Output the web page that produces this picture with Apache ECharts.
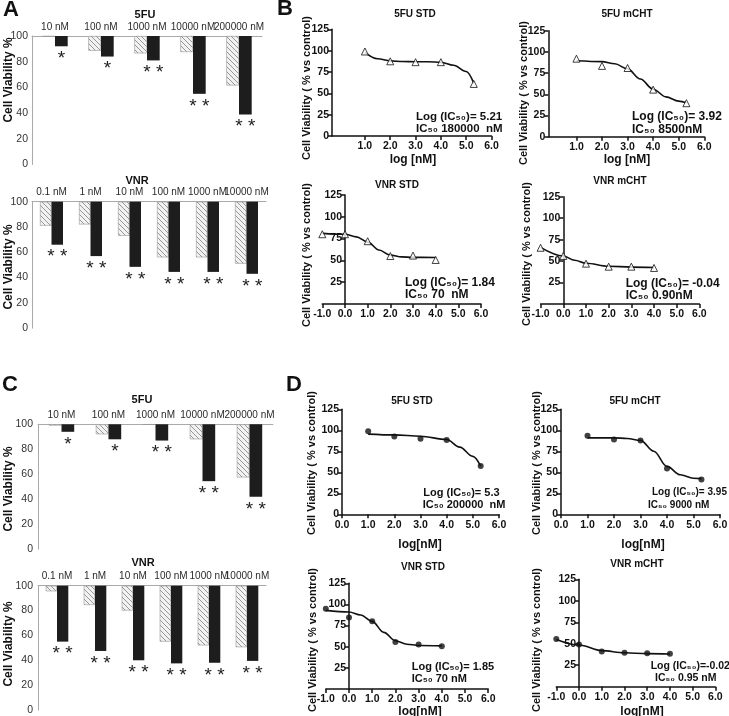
<!DOCTYPE html>
<html>
<head>
<meta charset="utf-8">
<script src="https://cdn.jsdelivr.net/npm/echarts@6/dist/echarts.min.js"></script>
<style>
html, body { margin: 0; padding: 0; background: #fff; }
#main { width: 729px; height: 716px; }
</style>
</head>
<body>
<div id="main"></div>
<script>
var sans = '"Liberation Sans", Arial, sans-serif';

// bar panels (A, C): cell viability %
var conc5FU = ['10 nM', '100 nM', '1000 nM', '10000 nM', '200000 nM'];
var concVNR = ['0.1 nM', '1 nM', '10 nM', '100 nM', '1000 nM', '10000 nM'];
var a5fuStd  = [99.5, 88.5, 86.5, 87.5, 61.5];
var a5fuMcht = [92, 84, 81, 55, 39];
var aVnrStd  = [81, 82, 73, 56, 56, 51];
var aVnrMcht = [66, 57, 48.5, 44.5, 44.5, 43];
var c5fuStd  = [99, 92, 99.7, 88, 57.5];
var c5fuMcht = [94, 88, 87, 54.5, 42];
var cVnrStd  = [95.5, 84.5, 80, 55, 52, 50.5];
var cVnrMcht = [55, 47.5, 40, 37.5, 38, 39.5];
var stars5FU = ['*', '*', '* *', '* *', '* *'];
var starsVNR = ['* *', '* *', '* *', '* *', '* *', '* *'];

// dose-response panels (B, D): [log nM, % vs control]
var b5fuStdPts  = [[1, 99], [2, 87.5], [3, 86.5], [4, 86.5], [5.3, 61]];
var b5fuStdFit  = [[1, 98], [1.5, 90.5], [2, 88], [2.5, 87.3], [3, 87], [3.5, 87], [4, 86.3], [4.5, 82.8], [5, 75.5], [5.3, 62]];
var b5fuMchtPts = [[1, 92], [2, 83.5], [3, 81], [4, 55.5], [5.3, 39.5]];
var b5fuMchtFit = [[1, 89.5], [2, 88.5], [2.5, 86], [3, 80], [3.5, 68], [4, 56], [4.5, 47], [5, 42], [5.3, 40]];
var bVnrStdPts  = [[-1, 80], [0, 80], [1, 72], [2, 55], [3, 55.5], [4, 50.5]];
var bVnrStdFit  = [[-1, 81], [0, 80], [0.5, 77], [1, 71], [1.5, 62], [2, 56], [2.5, 54], [3, 53.5], [4, 53.3]];
var bVnrMchtPts = [[-1, 65.5], [0, 56], [1, 47], [2, 43.5], [3, 43.5], [4, 42]];
var bVnrMchtFit = [[-1, 66], [0, 56], [0.5, 51], [1, 47.5], [2, 44], [3, 43], [4, 42.5]];
var d5fuStdPts  = [[1, 99], [2, 92.5], [3, 90], [4, 88.5], [5.3, 57.5]];
var d5fuStdFit  = [[1, 95.5], [2, 94.5], [3, 93], [4, 89], [4.5, 80], [5, 69], [5.3, 57.5]];
var d5fuMchtPts = [[1, 93.5], [2, 89], [3, 88], [4, 54.5], [5.3, 41.5]];
var d5fuMchtFit = [[1, 91], [2, 91], [2.5, 90.3], [3, 88], [3.5, 75], [4, 57], [4.5, 47], [5, 43], [5.3, 42.5]];
var dVnrStdPts  = [[-1, 95], [0, 84.5], [1, 80], [2, 55.5], [3, 52.5], [4, 50.5]];
var dVnrStdFit  = [[-1, 93], [0, 91], [0.5, 87.5], [1, 80], [1.5, 67], [2, 57], [2.5, 53], [3, 51.5], [4, 51]];
var dVnrMchtPts = [[-1, 55.5], [0, 49], [1, 41], [2, 39.5], [3, 38.8], [4, 38.3]];
var dVnrMchtFit = [[-1, 55], [0, 48.5], [1, 42], [2, 39.5], [3, 38.5], [4, 38]];
var topTicks = [1, 2, 3, 4, 5, 6];

var grids = [], xAxes = [], yAxes = [], series = [], graphics = [];

// hatched fill for the STD bars
function makeHatch() {
    var c = document.createElement('canvas');
    c.width = 5; c.height = 5;
    var g = c.getContext('2d');
    g.fillStyle = '#f2f2f2';
    g.fillRect(0, 0, 5, 5);
    g.strokeStyle = '#8c8c8c';
    g.lineWidth = 0.9;
    g.beginPath();
    g.moveTo(-1, -1); g.lineTo(6, 6);
    g.moveTo(-1, 4); g.lineTo(1, 6);
    g.moveTo(4, -1); g.lineTo(6, 1);
    g.stroke();
    return c;
}
var hatchFill = { image: makeHatch(), repeat: 'repeat' };

function txt(x, y, s, size, weight, extra) {
    var el = {
        type: 'text', x: x, y: y, silent: true,
        style: {
            text: s, fontSize: size, fontWeight: weight || 'normal', fontFamily: sans, fill: '#111',
            align: 'center', verticalAlign: 'middle', textAlign: 'center', textVerticalAlign: 'middle'
        }
    };
    if (extra) {
        if (extra.rotation) el.rotation = extra.rotation;
        if (extra.align) { el.style.align = extra.align; el.style.textAlign = extra.align; }
    }
    return el;
}

function fromTop(v) { return 100 - v; }

function addBars(p) {
    var i = grids.length;
    grids.push({ left: p.box[0], top: p.box[1], width: p.box[2], height: p.box[3], outerBoundsMode: 'none' });
    xAxes.push({
        gridIndex: i, type: 'category', data: p.cats, position: 'top',
        axisLine: { onZero: false, lineStyle: { color: '#aaa', width: 1 } },
        axisTick: { show: false },
        axisLabel: { interval: 0, margin: 4, fontSize: 10, color: '#2a2a2a', fontFamily: sans }
    });
    yAxes.push({
        gridIndex: i, type: 'value', min: 0, max: 100, interval: 20,
        axisLine: { show: true, lineStyle: { color: '#aaa', width: 1 } },
        axisTick: { show: false }, splitLine: { show: false },
        axisLabel: { margin: p.labGap, fontSize: 10.5, color: '#333', fontFamily: sans }
    });
    var base = { type: 'bar', xAxisIndex: i, yAxisIndex: i, barWidth: p.barW, barGap: '0%', silent: true };
    series.push(Object.assign({}, base, { stack: 'std' + i, data: p.std, itemStyle: { color: 'rgba(0,0,0,0)' } }));
    series.push(Object.assign({}, base, {
        stack: 'std' + i, data: p.std.map(fromTop),
        itemStyle: { color: hatchFill, borderColor: '#999', borderWidth: 0.6 }
    }));
    series.push(Object.assign({}, base, { stack: 'mcht' + i, data: p.mcht, itemStyle: { color: 'rgba(0,0,0,0)' } }));
    series.push(Object.assign({}, base, {
        stack: 'mcht' + i, data: p.mcht.map(fromTop),
        itemStyle: { color: '#1d1d1d' },
        label: {
            show: true, position: 'bottom', distance: 3, fontSize: 19, color: '#222', fontFamily: sans,
            formatter: function (d) { return p.stars[d.dataIndex]; }
        }
    }));
    graphics.push(txt(p.title[0], p.title[1], p.title[2], 11, 'bold'));
    graphics.push(txt(p.yname[0], p.yname[1], 'Cell Viability %', 12, 'bold', { rotation: Math.PI / 2 }));
}

function addCurve(p) {
    var i = grids.length;
    var ink = '#111';
    grids.push({ left: p.box[0], top: p.box[1], width: p.box[2], height: p.box[3], outerBoundsMode: 'none' });
    var xa = {
        gridIndex: i, type: 'value', min: p.xMin, max: 6,
        axisLine: { onZero: false, lineStyle: { color: ink, width: 1.5 } },
        axisTick: { length: 4, lineStyle: { color: ink, width: 1.5 } },
        splitLine: { show: false },
        axisLabel: {
            margin: 5, fontSize: 10.5, fontWeight: 'bold', color: ink, fontFamily: sans,
            formatter: function (v) { return v.toFixed(1); }
        }
    };
    if (p.xTicks) {
        xa.axisTick.customValues = p.xTicks;
        xa.axisLabel.customValues = p.xTicks;
    } else {
        xa.interval = 1;
    }
    xAxes.push(xa);
    // VNR panels: the y axis crosses at log = 0, shifted into the grid
    var shift = p.yAtZero ? -p.box[2] * (0 - p.xMin) / (6 - p.xMin) : 0;
    yAxes.push({
        gridIndex: i, type: 'value', min: 0, max: 125, interval: 25, offset: shift,
        axisLine: { show: true, onZero: false, lineStyle: { color: ink, width: 1.5 } },
        axisTick: { length: 4, lineStyle: { color: ink, width: 1.5 } },
        splitLine: { show: false },
        axisLabel: { margin: 3, fontSize: 10.5, fontWeight: 'bold', color: ink, fontFamily: sans, showMinLabel: !p.yAtZero }
    });
    series.push({
        type: 'line', xAxisIndex: i, yAxisIndex: i, data: p.fit, smooth: 0.35, smoothMonotone: 'x',
        symbol: 'none', showSymbol: false, silent: true, lineStyle: { color: ink, width: 1.6 }
    });
    series.push({
        type: 'scatter', xAxisIndex: i, yAxisIndex: i, data: p.pts, z: 3, silent: true,
        symbol: p.sym, symbolSize: p.sym === 'triangle' ? 7 : 6,
        itemStyle: p.sym === 'triangle' ? { color: '#fff', borderColor: ink, borderWidth: 1 } : { color: ink }
    });
    graphics.push(txt(p.title[0], p.title[1], p.title[2], 10, 'bold'));
    graphics.push(txt(p.yname[0], p.yname[1], 'Cell Viability ( % vs control)', 11, 'bold', { rotation: Math.PI / 2 }));
    if (p.xname) graphics.push(txt(p.xname[0], p.xname[1], p.xname[2], 12, 'bold'));
    graphics.push(txt(p.ic[0], p.ic[1], p.ic[2], p.icSize, 'bold', { align: 'left' }));
    graphics.push(txt(p.ic[3], p.ic[1] + 12.5, p.ic[4], p.icSize, 'bold', { align: 'left' }));
}

// panel A
addBars({ box: [32, 36, 230, 128.5], cats: conc5FU, std: a5fuStd, mcht: a5fuMcht, stars: stars5FU, barW: 12.7,
    labGap: 4, title: [145, 15, '5FU'], yname: [9, 80] });
addBars({ box: [32, 201.7, 234, 126.5], cats: concVNR, std: aVnrStd, mcht: aVnrMcht, stars: starsVNR, barW: 11.5,
    labGap: 4, title: [137, 181, 'VNR'], yname: [9, 267] });
// panel C
addBars({ box: [38, 424.3, 235, 125], cats: conc5FU, std: c5fuStd, mcht: c5fuMcht, stars: stars5FU, barW: 12.7,
    labGap: 5, title: [142, 400, '5FU'], yname: [9, 489] });
addBars({ box: [38, 585.7, 228, 124.3], cats: concVNR, std: cVnrStd, mcht: cVnrMcht, stars: starsVNR, barW: 11.3,
    labGap: 5, title: [143, 563, 'VNR'], yname: [9, 644] });

// panel B
addCurve({ box: [332, 29.3, 159.5, 106.7], xMin: -0.3, xTicks: topTicks, pts: b5fuStdPts, fit: b5fuStdFit, sym: 'triangle',
    title: [415, 14, '5FU STD'], yname: [307, 88], xname: [413, 160, 'log [nM]'], icSize: 11.5,
    ic: [416, 116.7, 'Log (IC₅₀)= 5.21', 416, 'IC₅₀ 180000  nM'] });
addCurve({ box: [548.3, 30.7, 156, 106], xMin: -0.1, xTicks: topTicks, pts: b5fuMchtPts, fit: b5fuMchtFit, sym: 'triangle',
    title: [627, 14, '5FU mCHT'], yname: [524.3, 93], xname: [627, 160, 'log [nM]'], icSize: 12,
    ic: [632, 116.7, 'Log (IC₅₀)= 3.92', 632, 'IC₅₀ 8500nM'] });
addCurve({ box: [322.3, 195, 158.7, 109], xMin: -1, yAtZero: true, pts: bVnrStdPts, fit: bVnrStdFit, sym: 'triangle',
    title: [397, 185, 'VNR STD'], yname: [306.7, 255], icSize: 12,
    ic: [405, 282.3, 'Log (IC₅₀)= 1.84', 405, 'IC₅₀ 70  nM'] });
addCurve({ box: [540.6, 196.7, 158.8, 107.3], xMin: -1, yAtZero: true, pts: bVnrMchtPts, fit: bVnrMchtFit, sym: 'triangle',
    title: [620, 181, 'VNR mCHT'], yname: [526.7, 254], icSize: 12,
    ic: [625.7, 283.3, 'Log (IC₅₀)= -0.04', 625.7, 'IC₅₀ 0.90nM'] });

// panel D
addCurve({ box: [342, 409.3, 157, 105], xMin: 0, pts: d5fuStdPts, fit: d5fuStdFit, sym: 'circle',
    title: [412, 401.7, '5FU STD'], yname: [311.7, 463], xname: [420, 545, 'log[nM]'], icSize: 11,
    ic: [423.3, 492.7, 'Log (IC₅₀)= 5.3', 422.7, 'IC₅₀ 200000  nM'] });
addCurve({ box: [561, 409.3, 159, 105], xMin: 0, pts: d5fuMchtPts, fit: d5fuMchtFit, sym: 'circle',
    title: [635, 401.7, '5FU mCHT'], yname: [536.7, 463], xname: [643, 545, 'log[nM]'], icSize: 10,
    ic: [652, 492.7, 'Log (IC₅₀)= 3.95', 648, 'IC₅₀ 9000 nM'] });
addCurve({ box: [325.8, 583.3, 162.4, 105.7], xMin: -1, yAtZero: true, pts: dVnrStdPts, fit: dVnrStdFit, sym: 'circle',
    title: [423, 567, 'VNR STD'], yname: [313.3, 640], xname: [420, 711.5, 'log[nM]'], icSize: 11,
    ic: [411.7, 666.7, 'Log (IC₅₀)= 1.85', 411.7, 'IC₅₀ 70 nM'] });
addCurve({ box: [556.3, 579.3, 159.1, 107.4], xMin: -1, yAtZero: true, pts: dVnrMchtPts, fit: dVnrMchtFit, sym: 'circle',
    title: [637, 564, 'VNR mCHT'], yname: [536.7, 640], xname: [642, 711.5, 'log[nM]'], icSize: 10.5,
    ic: [650.7, 666, 'Log (IC₅₀)=-0.02', 655, 'IC₅₀ 0.95 nM'] });

// panel letters
graphics.push(txt(11, 10, 'A', 22, 'bold'));
graphics.push(txt(285, 9, 'B', 22, 'bold'));
graphics.push(txt(10, 385, 'C', 22, 'bold'));
graphics.push(txt(294, 385, 'D', 22, 'bold'));

var chart = echarts.init(document.getElementById('main'));
chart.setOption({
    backgroundColor: '#ffffff',
    animation: false,
    textStyle: { fontFamily: sans },
    grid: grids,
    xAxis: xAxes,
    yAxis: yAxes,
    series: series,
    graphic: { elements: graphics }
});
</script>
</body>
</html>
